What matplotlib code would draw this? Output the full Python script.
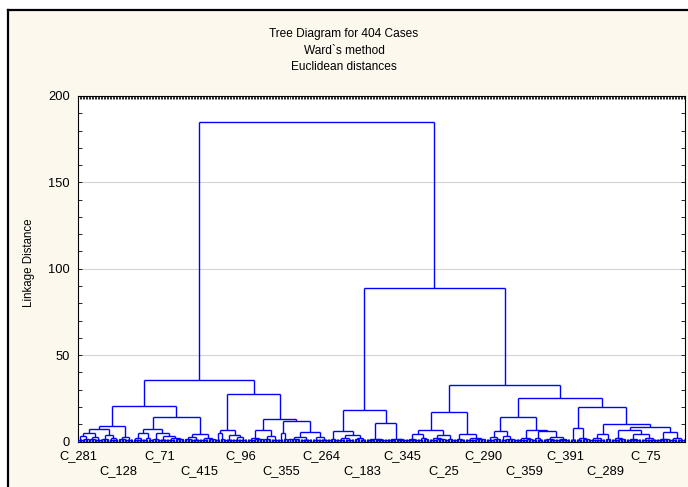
import matplotlib
matplotlib.use("Agg")
import matplotlib.pyplot as plt
from matplotlib.collections import LineCollection
from matplotlib.patches import Rectangle
from matplotlib.lines import Line2D

plt.rcParams['font.family'] = ['Liberation Sans', 'DejaVu Sans']

# tree: a node is [linkage distance, left, right],
# a bottom group of cases is (number of cases, linkage distance)
A11 = [9.0,
       [7.1,
        [5.1, [3.2, (4, 1.0), (4, 1.4)], [2.8, (4, 1.2), (4, 0.9)]],
        [3.8, (5, 1.5), [2.2, (3, 0.8), (3, 1.1)]]],
       [2.5, (5, 1.2), (5, 0.9)]]

A12 = [14.4,
       [7.4,
        [5.0, [1.8, (3, 1.0), (4, 0.8)], [2.0, (3, 1.1), (3, 0.7)]],
        [4.7, (4, 1.3), [3.0, (6, 1.0), [2.0, (5, 0.8), (6, 1.2)]]]],
       [4.3, [2.5, (5, 1.2), (6, 0.9)], [2.0, (5, 0.8), (5, 1.3)]]]

A21 = [6.7,
       [4.8, (3, 1.0), (3, 1.5)],
       [4.0, (6, 1.0), [2.5, (4, 1.1), (5, 0.9)]]]

A22 = [13.0,
       [6.7, [2.2, (5, 1.0), (6, 1.2)], [3.2, (5, 1.5), (5, 0.9)]],
       [11.9,
        [4.7, (3, 0.9), (3, 1.2)],
        [5.3, [2.5, (8, 1.2), (8, 0.9)], [2.8, (5, 1.1), (6, 1.0)]]]]

B11 = [6.1,
       [1.5, (3, 0.8), (3, 1.0)],
       [3.8, [2.0, (5, 1.0), (6, 0.8)], [1.8, (4, 1.2), (4, 0.9)]]]

B12 = [10.9,
       [1.6, [1.0, (3, 0.6), (3, 0.8)], [1.2, (3, 0.7), (4, 0.9)]],
       [1.7, [1.1, (4, 0.6), (3, 0.9)], [1.3, (3, 0.8), (4, 0.6)]]]

B21 = [16.9,
       [6.7,
        [4.2, [1.5, (4, 0.8), (4, 1.1)], [1.9, (3, 0.9), (4, 1.2)]],
        [4.0, [2.0, (5, 1.0), (6, 1.3)], [1.5, (3, 0.8), (3, 1.0)]]],
       [4.2, [1.6, (3, 0.8), (4, 1.1)], [2.2, (7, 1.0), (7, 1.4)]]]

B221 = [14.4,
        [6.1, [2.8, (5, 1.0), (5, 1.3)], [3.0, (3, 0.9), (6, 1.2)]],
        [6.7,
         [1.8, [1.0, (5, 0.7), (3, 0.9)], (4, 1.4)],
         [6.1, [2.2, (3, 0.9), (4, 1.1)],
          [2.5, [1.3, (4, 0.8), (5, 1.0)], [1.6, (4, 1.1), (5, 0.8)]]]]]

B222 = [20.1,
        [7.6, [0.8, (2, 0.5), (2, 0.6)], [2.2, (4, 0.9), (5, 1.2)]],
        [9.9,
         [4.2, [1.8, (5, 1.0), (5, 0.8)], (4, 1.3)],
         [8.2,
          [6.7, [2.0, (5, 0.9), (5, 1.2)],
           [4.2, [1.5, (5, 0.8), (5, 1.1)], [1.8, (5, 1.0), (6, 0.8)]]],
          [5.7, [1.6, (4, 0.9), (4, 1.2)], [2.0, (5, 1.0), (5, 0.7)]]]]]

cluster_A = [35.5, [20.7, A11, A12], [27.3, A21, A22]]
cluster_B = [88.9, [18.2, B11, B12], [32.7, B21, [25.4, B221, B222]]]
root_height = 184.9

case_labels = ['C_281', 'C_128', 'C_71', 'C_415', 'C_96', 'C_355', 'C_264',
               'C_183', 'C_345', 'C_25', 'C_290', 'C_359', 'C_391', 'C_289', 'C_75']
label_step = 27
n_cases = 404


def draw(node, start, segs):
    # returns x of the node's stem, its height and the next free leaf
    if isinstance(node, tuple):
        n, h = node
        xs = list(range(start, start + n))
        for x in xs:
            segs.append([(x, 0), (x, h)])
        if n > 1:
            segs.append([(xs[0], h), (xs[-1], h)])
        return (xs[0] + xs[-1]) / 2, h, start + n
    h, left, right = node
    xl, hl, nxt = draw(left, start, segs)
    xr, hr, nxt = draw(right, nxt, segs)
    segs += [[(xl, hl), (xl, h)], [(xr, hr), (xr, h)], [(xl, h), (xr, h)]]
    return (xl + xr) / 2, h, nxt


segs = []
draw([root_height, cluster_A, cluster_B], 1, segs)

fig = plt.figure(figsize=(6.88, 4.87), dpi=100, facecolor='white')
# cream panel with black frame
fig.add_artist(Rectangle((8 / 688, 0), 1, 1 - 10 / 487, transform=fig.transFigure,
                         facecolor='#fcf8ee', edgecolor='none', zorder=0))
fig.add_artist(Line2D([8 / 688, 8 / 688], [0, 1 - 10 / 487], transform=fig.transFigure,
                      color='black', lw=1.6))
fig.add_artist(Line2D([8 / 688, 1], [1 - 10 / 487, 1 - 10 / 487], transform=fig.transFigure,
                      color='black', lw=1.6))

ax = fig.add_axes([78 / 688, 45.5 / 487, 607 / 688, 345.5 / 487])
ax.set_facecolor('white')
ax.add_collection(LineCollection(segs, colors='#0000ff', linewidths=1.0, zorder=3))

ax.set_xlim(0.9, n_cases + 0.9)
ax.set_ylim(0, 200)
ax.set_yticks(range(0, 201, 50))
ax.set_yticks(range(0, 201, 10), minor=True)
ax.yaxis.grid(True, which='major', color='#d4d4d4', lw=0.8)
ax.set_axisbelow(True)

pos = list(range(1, n_cases + 1, label_step))[:len(case_labels)]
ax.set_xticks(pos)
ax.set_xticklabels([lab if k % 2 == 0 else '\n' + lab for k, lab in enumerate(case_labels)],
                   linespacing=1.4)
ax.set_xticks(range(1, n_cases + 1), minor=True)

ax.tick_params(axis='both', which='both', direction='in', top=True, right=True,
               labelsize=9.3, color='black')
ax.tick_params(axis='x', which='both', length=2.2, width=0.6, pad=6)
ax.tick_params(axis='y', which='both', length=3, width=0.6, pad=6)
for s in ax.spines.values():
    s.set_linewidth(0.8)

ax.set_ylabel('Linkage Distance', fontsize=8.3)
ax.yaxis.set_label_coords(-0.071, 0.518)

fig.text(0.5, 1 - 34 / 487, 'Tree Diagram for 404 Cases', ha='center', va='center', fontsize=8.6)
fig.text(0.5, 1 - 50.5 / 487, 'Ward`s method', ha='center', va='center', fontsize=8.6)
fig.text(0.5, 1 - 67 / 487, 'Euclidean distances', ha='center', va='center', fontsize=8.6)

fig.savefig('out.png', dpi=100, facecolor=fig.get_facecolor())
